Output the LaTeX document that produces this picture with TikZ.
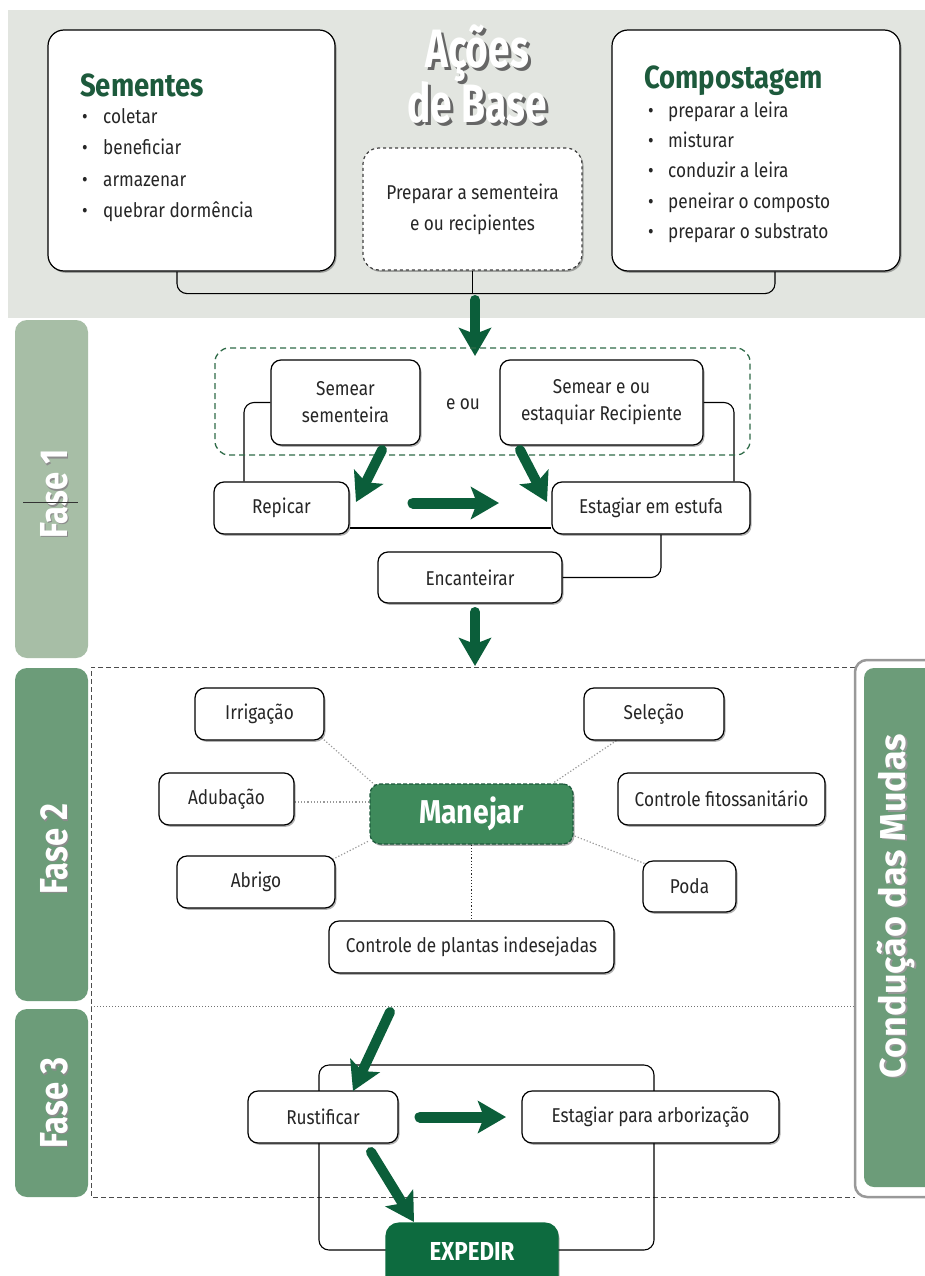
\documentclass[tikz,border=0pt]{standalone}
\usepackage{fontspec}
\setmainfont{Fira Sans}[FakeStretch=0.86]
\newfontfamily\sidefont{Fira Sans}[FakeStretch=0.84]
\newfontfamily\condfont{Fira Sans}
\newfontfamily\titlefont{Fira Sans}[FakeStretch=0.72]
\usetikzlibrary{arrows.meta,shadows,calc}
\definecolor{band}{HTML}{E2E5E0}
\definecolor{fone}{HTML}{A7BEA6}
\definecolor{ftwo}{HTML}{6C9C79}
\definecolor{arrowgreen}{HTML}{0B5E3A}
\definecolor{headgreen}{HTML}{1D5A3C}
\definecolor{manejarcol}{HTML}{3E8A5B}
\definecolor{expedircol}{HTML}{0D6B3F}
\definecolor{dashgreen}{HTML}{2F6B48}
\pgfdeclarelayer{back}
\pgfdeclarelayer{bg}
\pgfsetlayers{back,bg,main}
\begin{document}
\begin{tikzpicture}[x=1pt,y=-1pt,
  box/.style={draw=black, line width=1.2pt, rounded corners=10pt, fill=white,
     drop shadow={shadow xshift=1.5pt, shadow yshift=-1.8pt, opacity=0.3, fill=black},
     font=\fontsize{20}{27}\selectfont, align=center, inner sep=0pt, text=black!85},
  dotcon/.style={draw=black!40, dotted, line width=1.2pt},
  thinline/.style={draw=black, line width=1.1pt, rounded corners=10pt},
  garrow/.style={draw=arrowgreen, line width=10pt, line cap=round, -{Stealth[length=28pt,width=32pt,inset=6pt]}},
  body/.style={font=\fontsize{20}{23}\selectfont, text=black!85, inner sep=0pt, anchor=base west},
  bul/.style={font=\fontsize{20}{20}\selectfont, text=black!85, inner sep=0pt, anchor=base},
  headtxt/.style={font=\fontsize{32}{36}\selectfont\bfseries, text=headgreen, anchor=base west, inner sep=0pt},
  sidetxt/.style={rotate=90, font=\sidefont\fontsize{39}{42}\selectfont\bfseries, inner sep=0pt},
  titletxt/.style={font=\titlefont\fontsize{54}{58}\selectfont\bfseries, anchor=base, inner sep=0pt},
]
\useasboundingbox (0,0) rectangle (925,1276);
\begin{pgfonlayer}{back}
\fill[white] (0,0) rectangle (925,1276);
\fill[band] (8,10) rectangle (925,318);
% side bars
\fill[fone, rounded corners=12pt] (15,320) rectangle (88,658);
\fill[ftwo, rounded corners=12pt] (15,668) rectangle (88,1001);
\fill[ftwo, rounded corners=12pt] (15,1009) rectangle (88,1197);
% Fase 2/3 frame
\draw[black!70, line width=1pt, dash pattern=on 5pt off 3pt] (855,667) -- (91,667) -- (91,1197) -- (855,1197);
\draw[black!55, line width=1pt, dotted] (91,1006) -- (855,1006);
% Conducao box
\draw[fill=white, draw=black!40, line width=2.5pt, rounded corners=12pt] (855,660) rectangle (945,1197);
\fill[ftwo, rounded corners=10pt] (864,668) rectangle (940,1187);
\end{pgfonlayer}

% side labels
\node[sidetxt, text=black!45] (f1s) at (55.5,495.5) {Fase 1};
\node[sidetxt, text=white] (f1t) at (54,494) {Fase 1};
\draw[black!80, line width=0.8pt] (23,502) -- (78,502);
\node[sidetxt, text=black!45] (f2s) at (55.5,850.5) {Fase 2};
\node[sidetxt, text=white] (f2t) at (54,849) {Fase 2};
\node[sidetxt, text=black!45] (f3s) at (55.5,1104.5) {Fase 3};
\node[sidetxt, text=white] (f3t) at (54,1103) {Fase 3};
\node[rotate=90, font=\condfont\fontsize{36}{40}\selectfont\bfseries, text=black!40, inner sep=0pt] (conds) at (897.5,907.5) {Condução das Mudas};
\node[rotate=90, font=\condfont\fontsize{36}{40}\selectfont\bfseries, text=white, inner sep=0pt] (cond) at (896,906) {Condução das Mudas};

% ===== Acoes de Base =====
\node[box, minimum width=287pt, minimum height=241pt, rounded corners=16pt] (sem) at (191.5,150.5) {};
\node[box, minimum width=288pt, minimum height=241pt, rounded corners=16pt] (comp) at (756,150.5) {};
\node[box, draw=black!75, dashed, minimum width=219pt, minimum height=122pt, rounded corners=16pt, font=\fontsize{20}{31}\selectfont] (prep) at (472.5,209) {Preparar a sementeira\\e ou recipientes};

\node[titletxt, text=black!60] (acS1) at (480,71) {Ações};
\node[titletxt, text=white] (ac1) at (477,68) {Ações};
\node[titletxt, text=black!60] (acS2) at (480,126) {de Base};
\node[titletxt, text=white] (ac2) at (477,123) {de Base};

\node[headtxt] (semH) at (80,97) {Sementes};
\foreach \t [count=\i] in {coletar,beneficiar,armazenar,quebrar dormência}{
  \node[bul] (sb\i) at (85,93+31*\i) {•};
  \node[body] (st\i) at (103,93+31*\i) {\t};
}
\node[headtxt] (compH) at (644,89) {Compostagem};
\foreach \t [count=\i] in {preparar a leira,misturar,conduzir a leira,peneirar o composto,preparar o substrato}{
  \node[bul] (cb\i) at (651,88+30*\i) {•};
  \node[body] (ct\i) at (668,88+30*\i) {\t};
}
\begin{pgfonlayer}{bg}
\draw[thinline] ([xshift=-14.5pt]sem.south) -- ++(0,22) -| ([xshift=19pt]comp.south);
\draw[black, line width=1.1pt] (prep.south) -- (prep.south |- 0,293);
\end{pgfonlayer}
\coordinate (topA) at (475,300);
\draw[garrow] (topA) -- (475,356);

% ===== Fase 1 =====
\node[draw=dashgreen, line width=1.3pt, dash pattern=on 6pt off 4pt, rounded corners=14pt, minimum width=535pt, minimum height=107pt, inner sep=0pt] (dashF1) at (482.5,401.5) {};
\node[box] (semA) [minimum width=149pt, minimum height=85pt] at (345.5,402.5) {Semear\\sementeira};
\node[box] (semB) [minimum width=203pt, minimum height=85pt] at (601.5,402.5) {Semear e ou\\estaquiar Recipiente};
\node[font=\fontsize{20}{23}\selectfont, text=black!85, inner sep=0pt] (eou) at (463,404) {e ou};
\node[box] (repicar) [minimum width=135pt, minimum height=52pt] at (281.5,508) {Repicar};
\node[box] (estufa) [minimum width=198pt, minimum height=52pt] at (651,508) {Estagiar em estufa};
\node[box] (encant) [minimum width=184pt, minimum height=51pt] at (470,577.5) {Encanteirar};
\begin{pgfonlayer}{bg}
\draw[thinline] (semA.west) -| ([xshift=-37.5pt]repicar.north);
\draw[thinline] (semB.east) -| ([xshift=83pt]estufa.north);
\draw[thinline] ([yshift=-20pt]repicar.east) -- ([yshift=-20pt]estufa.west);
\draw[thinline] ([xshift=10pt]estufa.south) |- (encant.east);
\end{pgfonlayer}
\coordinate (a1s) at (382,450);
\coordinate (a1e) at (356,502);
\draw[garrow] (a1s) -- (a1e);
\coordinate (a2s) at (520,450);
\coordinate (a2e) at (547,502);
\draw[garrow] (a2s) -- (a2e);
\coordinate (a3s) at (413,503);
\coordinate (a3e) at (499,503);
\draw[garrow, line width=11pt] (a3s) -- (a3e);
\coordinate (a4s) at (475,612);
\draw[garrow] (a4s) -- (475,666);

% ===== Fase 2 =====
\node[box] (irrig) [minimum width=129pt, minimum height=52pt] at (259.5,714) {Irrigação};
\node[box] (selec) [minimum width=140pt, minimum height=52pt] at (654,714) {Seleção};
\node[box] (adub) [minimum width=135pt, minimum height=52pt] at (226.5,799) {Adubação};
\node[box, fill=manejarcol, draw=headgreen, dash pattern=on 4pt off 2pt, text=white, font=\fontsize{33}{36}\selectfont\bfseries] (manejar) [minimum width=203pt, minimum height=60pt] at (471.5,814) {Manejar};
\node[box] (fito) [minimum width=207pt, minimum height=52pt] at (721.5,799) {Controle fitossanitário};
\node[box] (abrigo) [minimum width=158pt, minimum height=52pt] at (256,882) {Abrigo};
\node[box] (poda) [minimum width=93pt, minimum height=51pt] at (689.5,886.5) {Poda};
\node[box] (plantas) [minimum width=285pt, minimum height=52pt] at (471.5,947) {Controle de plantas indesejadas};
\begin{pgfonlayer}{bg}
\draw[dotcon] ([shift={(-3pt,3pt)}]irrig.south east) -- ([shift={(6pt,-2pt)}]manejar.north west);
\draw[dotcon] ([xshift=33pt]selec.south west) -- ([xshift=-21pt]manejar.north east);
\draw[dotcon] ([yshift=-3pt]adub.east) -- ([yshift=-3pt]adub.east -| manejar.west);
\draw[dotcon] ([shift={(-3pt,-4pt)}]abrigo.north east) -- ([yshift=4pt]manejar.south west);
\draw[dotcon] ([shift={(2pt,-3pt)}]poda.north west) -- ([yshift=9pt]manejar.south east);
\draw[black!85, dotted, line width=1.2pt] (manejar.south) -- (plantas.north);
\end{pgfonlayer}

% ===== Fase 3 =====
\node[box] (rust) [minimum width=150pt, minimum height=52pt] at (323,1117) {Rustificar};
\node[box] (arbor) [minimum width=257pt, minimum height=52pt] at (650.5,1117) {Estagiar para arborização};
\node[box, fill=expedircol, draw=expedircol, rounded corners=13pt, text=white, font=\fontsize{26}{30}\selectfont\bfseries] (expedir) [minimum width=172pt, minimum height=70pt] at (472,1258) {\raisebox{14pt}{EXPEDIR}};
\begin{pgfonlayer}{bg}
\draw[thinline] (319,1065) rectangle (654,1250);
\end{pgfonlayer}
\coordinate (b1s) at (390,1012);
\coordinate (b1e) at (353,1091);
\draw[garrow] (b1s) -- (b1e);
\coordinate (b2s) at (420,1117);
\coordinate (b2e) at (506,1117);
\draw[garrow, line width=11pt] (b2s) -- (b2e);
\coordinate (b3s) at (371,1152);
\coordinate (b3e) at (414,1222);
\draw[garrow] (b3s) -- (b3e);
\end{tikzpicture}
\end{document}
